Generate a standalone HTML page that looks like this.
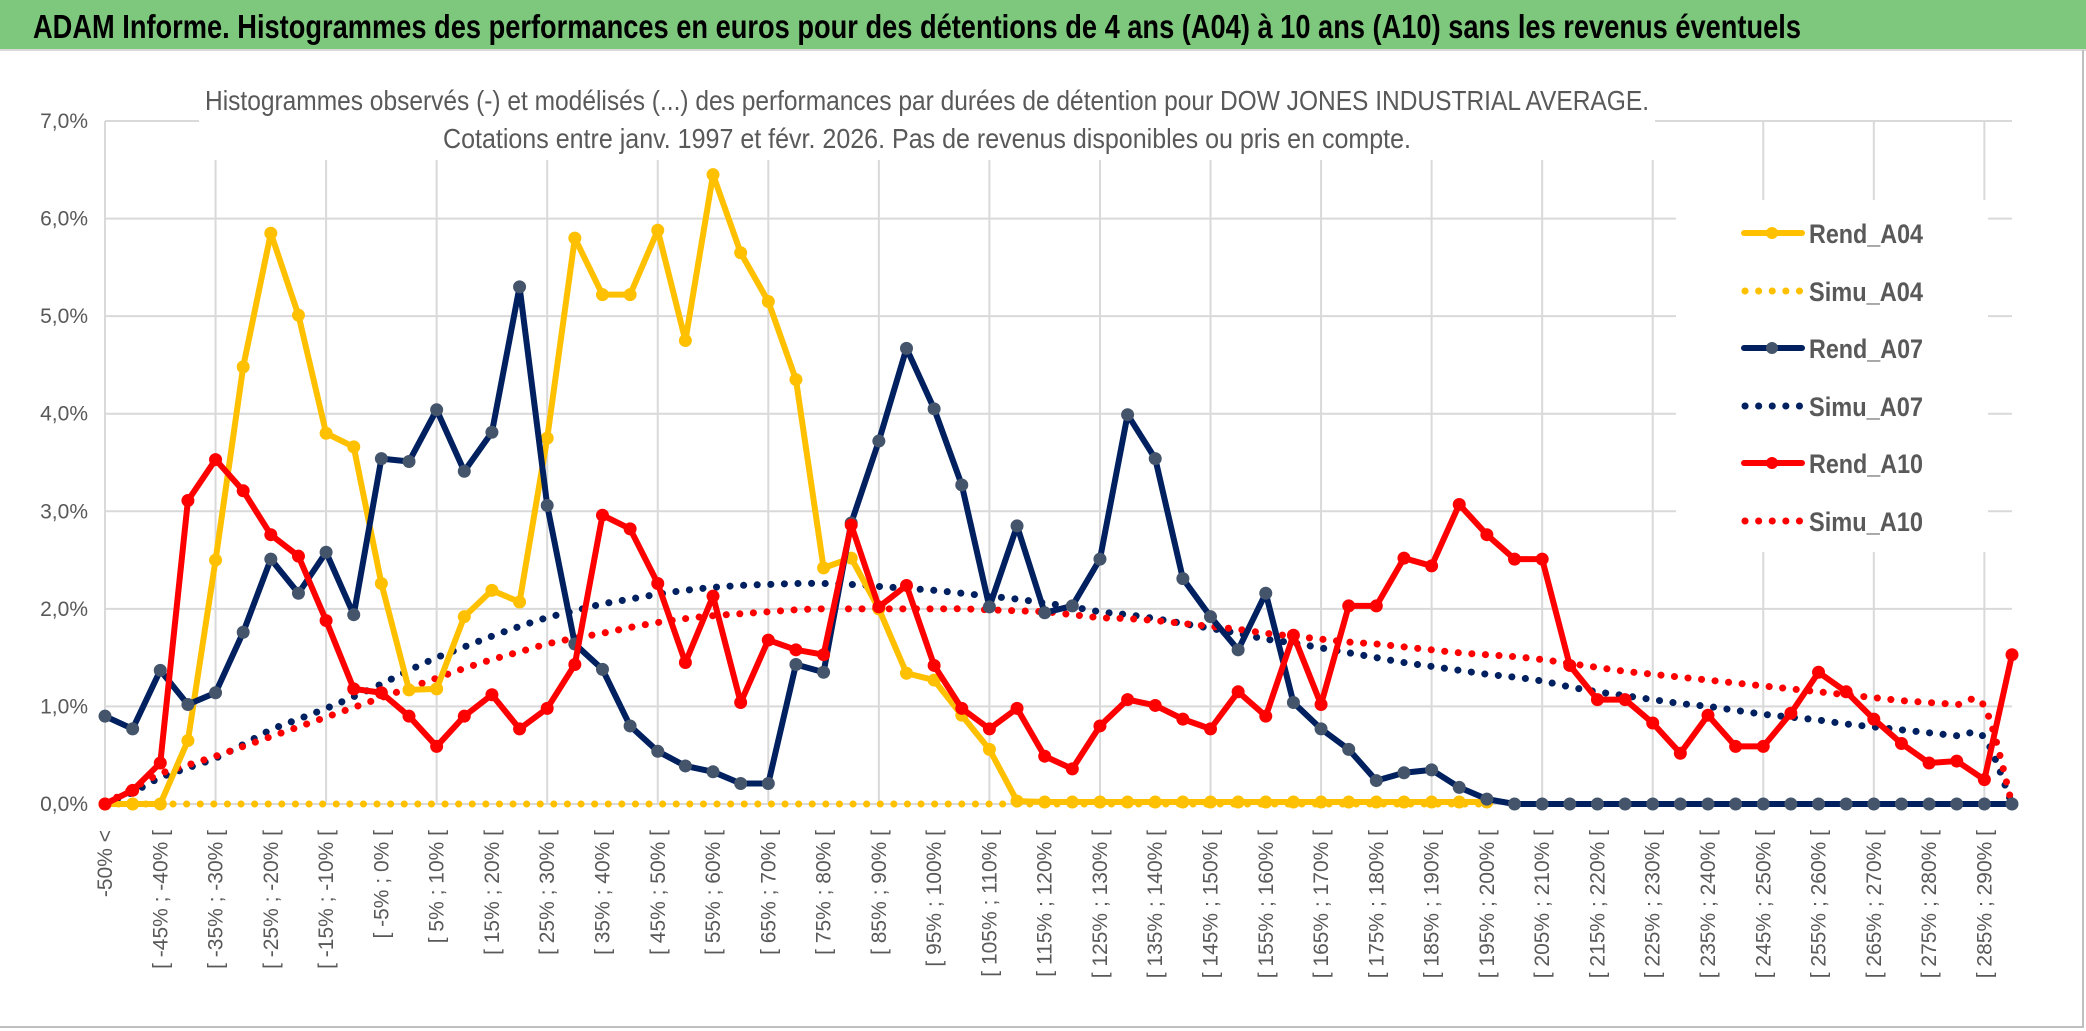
<!DOCTYPE html>
<html><head><meta charset="utf-8"><title>ADAM Informe</title>
<style>
html,body{margin:0;padding:0;background:#fff;}
svg{display:block;}
text{font-family:"Liberation Sans",sans-serif;}
</style></head>
<body>
<svg id="chart" width="2086" height="1031" viewBox="0 0 2086 1031" xmlns="http://www.w3.org/2000/svg">
  <rect x="0" y="0" width="2086" height="1031" fill="#ffffff"/>
  <rect x="0" y="0" width="2086" height="49" fill="#7ec87d"/>
  <line x1="0" y1="50" x2="2086" y2="50" stroke="#d9d9d9" stroke-width="2"/>
  <text x="33" y="38" font-size="33" font-weight="bold" fill="#000" textLength="1768" lengthAdjust="spacingAndGlyphs">ADAM Informe. Histogrammes des performances en euros pour des détentions de 4 ans (A04) à 10 ans (A10) sans les revenus éventuels</text>
  <g id="grid"></g>
  <rect x="199" y="80" width="1456" height="80" fill="#ffffff"/>
  <text x="927" y="110" font-size="28" fill="#595959" text-anchor="middle" textLength="1444" lengthAdjust="spacingAndGlyphs">Histogrammes observés (-) et modélisés (...) des performances par durées de détention pour DOW JONES INDUSTRIAL AVERAGE.</text>
  <text x="927" y="148" font-size="28" fill="#595959" text-anchor="middle" textLength="968" lengthAdjust="spacingAndGlyphs">Cotations entre janv. 1997 et févr. 2026. Pas de revenus disponibles ou pris en compte.</text>
  <g id="yaxis"></g>
  <g id="xaxis"></g>
  <g id="series"></g>
  <g id="legend"></g>
  <line x1="2083" y1="50" x2="2083" y2="1028" stroke="#bfbfbf" stroke-width="2"/>
  <line x1="0" y1="1027" x2="2083" y2="1027" stroke="#bfbfbf" stroke-width="2"/>
</svg>
<script>
const yTicks = [0,1,2,3,4,5,6,7];
const yTickLabels = ["0,0%","1,0%","2,0%","3,0%","4,0%","5,0%","6,0%","7,0%"];
const rendA04 = [0,0,0,0.65,2.50,4.48,5.85,5.01,3.80,3.66,2.26,1.17,1.18,1.92,2.19,2.07,3.75,5.80,5.22,5.22,5.88,4.75,6.45,5.65,5.15,4.35,2.42,2.52,2.00,1.34,1.27,0.91,0.56,0.03,0.02,0.02,0.02,0.02,0.02,0.02,0.02,0.02,0.02,0.02,0.02,0.02,0.02,0.02,0.02,0.02,0.02];
const simuA04 = [0,0,0,0,0,0,0,0,0,0,0,0,0,0,0,0,0,0,0,0,0,0,0,0,0,0,0,0,0,0,0,0,0,0,0,0,0,0,0,0,0,0,0,0,0,0,0,0,0,0,0];
const rendA07 = [0.90,0.77,1.37,1.02,1.14,1.76,2.51,2.16,2.58,1.94,3.54,3.51,4.04,3.41,3.81,5.30,3.06,1.64,1.38,0.80,0.54,0.39,0.33,0.21,0.21,1.43,1.35,2.88,3.72,4.67,4.05,3.27,2.02,2.85,1.96,2.03,2.51,3.99,3.54,2.31,1.92,1.58,2.16,1.04,0.77,0.56,0.24,0.32,0.35,0.17,0.05,0,0,0,0,0,0,0,0,0,0,0,0,0,0,0,0,0,0,0];
const simuA07 = [0,0.12,0.27,0.37,0.47,0.61,0.76,0.87,0.98,1.10,1.23,1.37,1.50,1.61,1.72,1.82,1.91,1.98,2.05,2.10,2.15,2.19,2.22,2.24,2.25,2.26,2.26,2.25,2.23,2.21,2.19,2.16,2.13,2.10,2.06,2.02,1.97,1.94,1.90,1.85,1.80,1.75,1.69,1.65,1.60,1.55,1.50,1.45,1.41,1.37,1.33,1.30,1.26,1.20,1.15,1.11,1.07,1.03,1.00,0.96,0.92,0.89,0.86,0.82,0.79,0.76,0.73,0.70,0.68,0];
const rendA10 = [0,0.14,0.42,3.11,3.53,3.21,2.76,2.54,1.88,1.18,1.14,0.90,0.59,0.90,1.12,0.77,0.98,1.43,2.96,2.82,2.26,1.45,2.13,1.04,1.68,1.58,1.53,2.86,2.02,2.24,1.42,0.98,0.77,0.98,0.49,0.36,0.80,1.07,1.01,0.87,0.77,1.15,0.90,1.73,1.02,2.03,2.03,2.52,2.44,3.07,2.76,2.51,2.51,1.42,1.07,1.07,0.83,0.52,0.91,0.59,0.59,0.93,1.35,1.15,0.87,0.62,0.42,0.44,0.25,1.53];
const simuA10 = [0,0.16,0.31,0.40,0.49,0.59,0.69,0.79,0.89,0.99,1.09,1.19,1.29,1.39,1.48,1.56,1.64,1.70,1.75,1.81,1.86,1.90,1.93,1.95,1.97,1.99,2.00,2.00,2.00,2.00,2.00,2.00,1.99,1.98,1.97,1.94,1.91,1.90,1.88,1.85,1.82,1.79,1.75,1.72,1.69,1.66,1.64,1.61,1.58,1.55,1.53,1.51,1.48,1.44,1.40,1.36,1.33,1.30,1.27,1.24,1.21,1.18,1.15,1.12,1.09,1.06,1.04,1.02,1.00,0];
const legendLabels = ["Rend_A04","Simu_A04","Rend_A07","Simu_A07","Rend_A10","Simu_A10"];

const NCAT = 70;
const categories = [];
for (let k = 0; k < NCAT; k++) {
  categories.push(k === 0 ? "-50% <" : "[ " + (-55 + 5 * k) + "% ; " + (-50 + 5 * k) + "% [");
}

const NS = "http://www.w3.org/2000/svg";
const X0 = 105, X1 = 2012, Y0 = 804, Y7 = 121;
function xPos(i) { return X0 + i * (X1 - X0) / (NCAT - 1); }
function yPos(v) { return Y0 - v * (Y0 - Y7) / 7; }
function mk(tag, attrs, parent) {
  const e = document.createElementNS(NS, tag);
  for (const k in attrs) e.setAttribute(k, attrs[k]);
  parent.appendChild(e);
  return e;
}

// gridlines
const grid = document.getElementById('grid');
yTicks.forEach(function (t) {
  const l = mk('line', {x1: X0, x2: X1, y1: yPos(t), y2: yPos(t), stroke: '#d9d9d9', 'stroke-width': 2}, grid);
  
  
});
for (let i = 0; i < NCAT; i += 4) {
  const l = mk('line', {x1: xPos(i), x2: xPos(i), y1: yPos(7), y2: Y0, stroke: '#d9d9d9', 'stroke-width': 2}, grid);
  
  
}

// y axis labels
const yaxis = document.getElementById('yaxis');
yTicks.forEach(function (t, i) {
  const tx = mk('text', {x: 88, y: yPos(t) + 7, 'font-size': 21, fill: '#595959', 'text-anchor': 'end'}, yaxis);
  tx.textContent = yTickLabels[i];
  
  
});

// x axis labels
const xaxis = document.getElementById('xaxis');
for (let i = 0; i < NCAT; i += 2) {
  const x = xPos(i) + 7, y = 830;
  const tx = mk('text', {x: x, y: y, 'font-size': 21, fill: '#595959', 'text-anchor': 'end', transform: 'rotate(-90 ' + x + ' ' + y + ')'}, xaxis);
  tx.textContent = categories[i];
  
  
}

function smoothPath(vals) {
  const p = vals.map(function (v, i) { return [xPos(i), yPos(v)]; });
  let d = 'M' + p[0][0] + ',' + p[0][1];
  for (let i = 0; i < p.length - 1; i++) {
    const a = p[i - 1] || p[i], b = p[i], c = p[i + 1], e = p[i + 2] || c;
    const c1x = b[0] + (c[0] - a[0]) / 6, c1y = b[1] + (c[1] - a[1]) / 6;
    const c2x = c[0] - (e[0] - b[0]) / 6, c2y = c[1] - (e[1] - b[1]) / 6;
    d += ' C' + c1x + ',' + c1y + ' ' + c2x + ',' + c2y + ' ' + c[0] + ',' + c[1];
  }
  return d;
}
function linePath(vals) {
  return vals.map(function (v, i) { return (i ? 'L' : 'M') + xPos(i) + ',' + yPos(v); }).join(' ');
}

const series = document.getElementById('series');
function drawSimu(vals, color, name) {
  const p = mk('path', {d: smoothPath(vals), fill: 'none', stroke: color, 'stroke-width': 7, 'stroke-linecap': 'round', 'stroke-dasharray': '0.1 13.5'}, series);
  
  
}
function drawRend(vals, color, mcolor, name) {
  const g = mk('g', {}, series);
  
  
  const p = mk('path', {d: linePath(vals), fill: 'none', stroke: color, 'stroke-width': 6, 'stroke-linejoin': 'round'}, g);
  
  
  vals.forEach(function (v, i) {
    const c = mk('circle', {cx: xPos(i), cy: yPos(v), r: 6.5, fill: mcolor}, g);
    
    
  });
}
drawSimu(simuA04, '#ffc000', 'simu-a04-line');
drawSimu(simuA07, '#002060', 'simu-a07-line');
drawSimu(simuA10, '#ff0000', 'simu-a10-line');
drawRend(rendA04, '#ffc000', '#ffc000', 'rend-a04-series');
drawRend(rendA07, '#002060', '#44546a', 'rend-a07-series');
drawRend(rendA10, '#ff0000', '#ff0000', 'rend-a10-series');

// legend
const legend = document.getElementById('legend');
const lb = mk('rect', {x: 1676, y: 200, width: 312, height: 352, fill: '#ffffff'}, legend);


const legColors = ['#ffc000', '#ffc000', '#002060', '#002060', '#ff0000', '#ff0000'];
const legMark = ['#ffc000', '#ffc000', '#44546a', '#44546a', '#ff0000', '#ff0000'];
const legY = [233, 291, 348, 406, 463, 521];
legendLabels.forEach(function (lab, i) {
  const g = mk('g', {}, legend);
  
  
  const y = legY[i];
  if (i % 2 === 0) {
    mk('line', {x1: 1744, x2: 1802, y1: y, y2: y, stroke: legColors[i], 'stroke-width': 6, 'stroke-linecap': 'round'}, g);
    mk('circle', {cx: 1772, cy: y, r: 6, fill: legMark[i]}, g);
  } else {
    mk('line', {x1: 1745, x2: 1802, y1: y, y2: y, stroke: legColors[i], 'stroke-width': 7, 'stroke-linecap': 'round', 'stroke-dasharray': '0.1 13.5'}, g);
  }
  const t = mk('text', {x: 1809, y: y + 10, 'font-size': 27, 'font-weight': 'bold', fill: '#595959', textLength: 114, lengthAdjust: 'spacingAndGlyphs'}, g);
  t.textContent = lab;
});
</script>
</body></html>
